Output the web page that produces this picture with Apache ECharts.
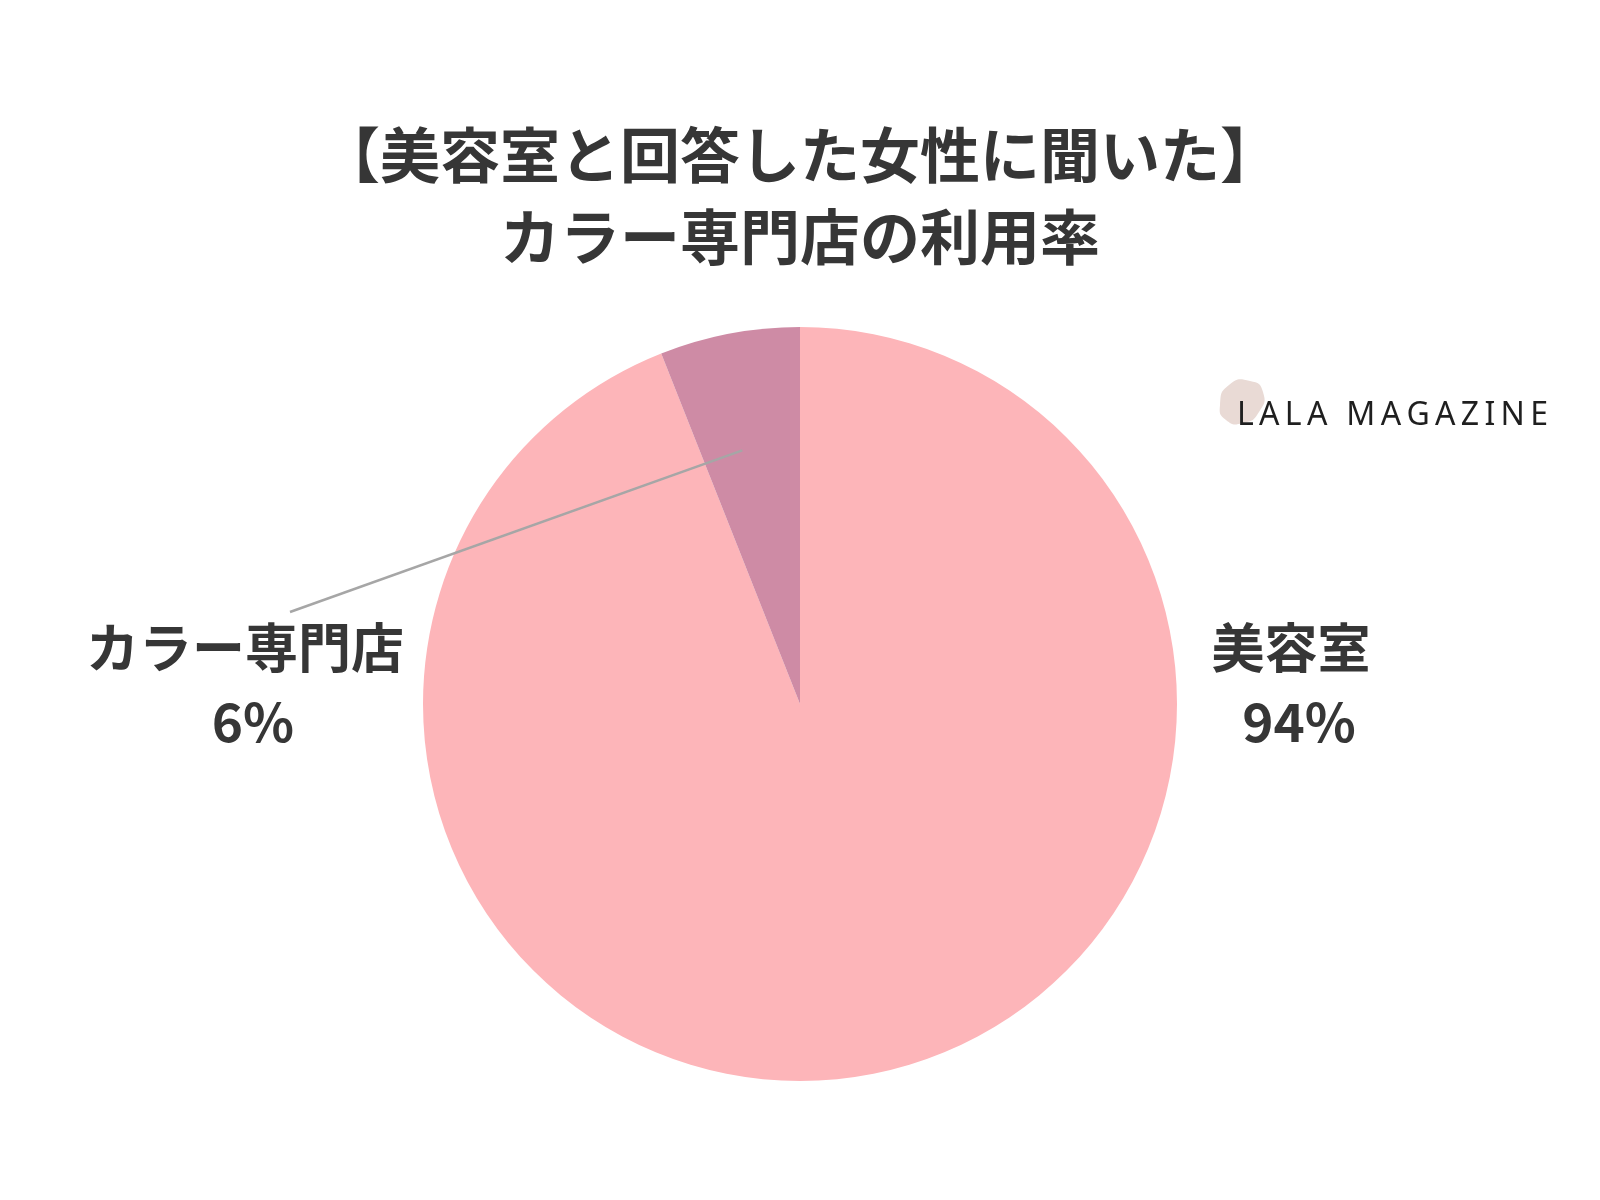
<!DOCTYPE html>
<html>
<head>
<meta charset="utf-8">
<script src="https://cdn.jsdelivr.net/npm/echarts@6/dist/echarts.min.js"></script>
<style>
  html, body { margin: 0; padding: 0; background: #ffffff; }
  #chart { width: 1600px; height: 1200px; }
</style>
</head>
<body>
<div id="chart"></div>
<script>
// 美容室と回答した女性のカラー専門店の利用率
const categories = ['美容室', 'カラー専門店'];
const shares = [94, 6];
const sliceColors = ['#FDB5B9', '#CE8BA5'];

const titleLines = ['【美容室と回答した女性に聞いた】', 'カラー専門店の利用率'];
const brandName = 'LALA MAGAZINE';

const CJK = '"Noto Sans CJK JP", "Noto Sans", sans-serif';
const PIE_CENTER = [800, 704];
const PIE_RADIUS = 377;

// label anchor (block centre) for each slice
const LABEL_POS = [[1291, 685], [245, 685]];
// far end of the leader line for the small slice
const LEADER_END = [290, 612];

// brand mark placement
const BRAND_LEFT = 1237;
const BRAND_TOP = 400;
const BRAND_WIDTH = 311;
const BRAND_FONT = '400 32px "Noto Sans", "DejaVu Sans", sans-serif';

const chart = echarts.init(document.getElementById('chart'));

// point inside slice i along its middle angle (pie runs clockwise from 12 o'clock)
function sliceMidPoint(i, frac, turn) {
  const total = shares.reduce((a, b) => a + b, 0);
  const before = shares.slice(0, i).reduce((a, b) => a + b, 0);
  const midFrac = (before + shares[i] / 2) / total;
  const ang = Math.PI / 2 - midFrac * 2 * Math.PI + (turn || 0);
  const r = PIE_RADIUS * frac;
  return [PIE_CENTER[0] + r * Math.cos(ang), PIE_CENTER[1] - r * Math.sin(ang)];
}

const leaderStart = sliceMidPoint(1, 0.69, 0.035);

// spaced-out wordmark: one text element per letter
function brandLetters() {
  const ctx = document.createElement('canvas').getContext('2d');
  ctx.font = BRAND_FONT;
  const chars = brandName.split('');
  const widths = chars.map(c => ctx.measureText(c).width);
  const natural = widths.reduce((a, b) => a + b, 0);
  const gap = (BRAND_WIDTH - natural) / (chars.length - 1);
  let x = BRAND_LEFT;
  return chars.map((c, k) => {
    const el = {
      type: 'text',
      z: 101,
      x: x,
      y: BRAND_TOP,
      style: { text: c, font: BRAND_FONT, fill: '#1f1f1f' }
    };
    x += widths[k] + gap;
    return el;
  });
}

chart.setOption({
  backgroundColor: '#ffffff',
  animation: false,
  title: {
    text: titleLines.join('\n'),
    left: 'center',
    top: 109,
    textStyle: {
      fontFamily: CJK,
      fontWeight: 'bold',
      fontSize: 60,
      lineHeight: 82,
      color: '#363636'
    }
  },
  graphic: [
    {
      type: 'line',
      z: 100,
      shape: { x1: leaderStart[0], y1: leaderStart[1], x2: LEADER_END[0], y2: LEADER_END[1] },
      style: { stroke: '#A6A6A6', lineWidth: 2.5 }
    },
    {
      type: 'polygon',
      z: 100,
      shape: {
        points: [[1229, 385], [1250, 381], [1263, 392], [1259, 412], [1243, 423], [1226, 420], [1220, 405]],
        smooth: 0.6
      },
      style: { fill: '#E9DAD5' }
    }
  ].concat(brandLetters()),
  series: [
    {
      type: 'pie',
      center: PIE_CENTER,
      radius: PIE_RADIUS,
      startAngle: 90,
      clockwise: true,
      data: categories.map((name, i) => ({
        name,
        value: shares[i],
        itemStyle: { color: sliceColors[i] }
      })),
      label: {
        show: true,
        position: 'outside',
        formatter: '{name|{b}}\n{val|{c}%}',
        align: 'center',
        rich: {
          name: {
            fontFamily: CJK,
            fontWeight: 'bold',
            fontSize: 53,
            lineHeight: 74,
            color: '#363636',
            align: 'center'
          },
          val: {
            fontFamily: CJK,
            fontWeight: 'bold',
            fontSize: 53,
            lineHeight: 74,
            color: '#363636',
            align: 'center',
            padding: [0, 0, 0, 16]
          }
        }
      },
      labelLine: { show: false },
      labelLayout: function (params) {
        const p = LABEL_POS[params.dataIndex];
        return { x: p[0], y: p[1], align: 'center', verticalAlign: 'middle' };
      },
      emphasis: { disabled: true }
    }
  ]
});
</script>
</body>
</html>
